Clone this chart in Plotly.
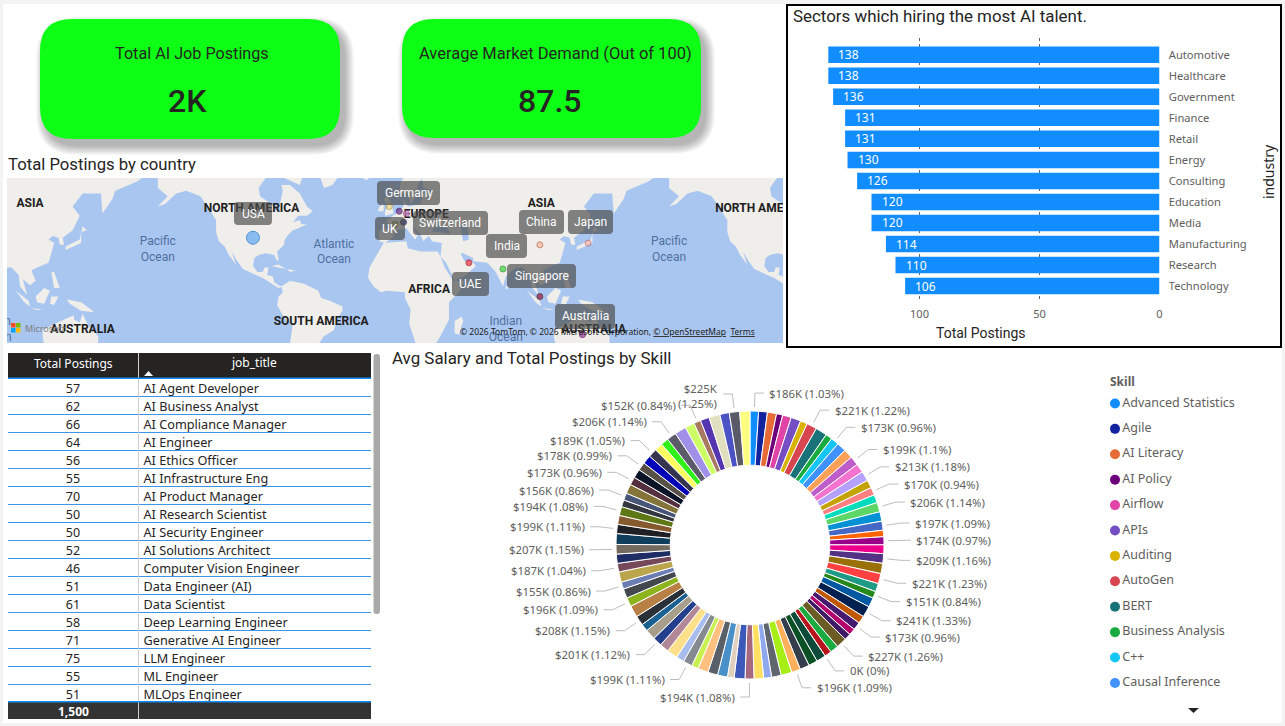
import math
import plotly.graph_objects as go

W, H = 1285, 726
BODY_FONT = "Noto Sans"
HEAD_FONT = "Roboto"
INK = "#252423"
GREY = "#605E5C"

# ---- KPI cards ----
card_titles = ["Total AI Job Postings", "Average Market Demand (Out of 100)"]
card_values = ["2K", "87.5"]

# ---- Postings by sector ----
industries = ["Automotive", "Healthcare", "Government", "Finance", "Retail", "Energy",
              "Consulting", "Education", "Media", "Manufacturing", "Research", "Technology"]
industry_postings = [138, 138, 136, 131, 131, 130, 126, 120, 120, 114, 110, 106]

# ---- Postings by job title ----
job_titles = ["AI Agent Developer", "AI Business Analyst", "AI Compliance Manager", "AI Engineer",
              "AI Ethics Officer", "AI Infrastructure Eng", "AI Product Manager", "AI Research Scientist",
              "AI Security Engineer", "AI Solutions Architect", "Computer Vision Engineer",
              "Data Engineer (AI)", "Data Scientist", "Deep Learning Engineer", "Generative AI Engineer",
              "LLM Engineer", "ML Engineer", "MLOps Engineer"]
job_postings = [57, 62, 66, 64, 56, 55, 70, 50, 50, 52, 46, 51, 61, 58, 71, 75, 55, 51]
table_total = "1,500"

# ---- Average salary by skill, in $K, clockwise from twelve o'clock ----
skill_legend = ["Advanced Statistics", "Agile", "AI Literacy", "AI Policy", "Airflow", "APIs",
                "Auditing", "AutoGen", "BERT", "Business Analysis", "C++", "Causal Inference"]
salary_k = [186, 190, 198, 135, 190, 215, 153, 221, 250, 146,
            173, 205, 200, 199, 195, 213, 175, 170, 175, 206,
            205, 197, 140, 174, 190, 209, 225, 221, 180, 151,
            205, 241, 165, 173, 143, 143, 227, 180, 155, 0,
            205, 195, 205, 196, 235, 208, 172, 208, 194, 235,
            145, 215, 215, 225, 150, 199, 172, 235, 200, 201,
            226, 162, 208, 255, 196, 205, 155, 225, 187, 200,
            207, 235, 199, 195, 194, 150, 156, 205, 173, 195,
            178, 190, 189, 175, 169, 206, 250, 205, 152, 195,
            240, 205, 225, 222]
slice_colors = ["#118DFF", "#12239E", "#E66C37", "#6B007B", "#E044A7", "#744EC2", "#D9B300", "#D64550", "#197278", "#1AAB40",
                "#15C6F4", "#4092FF", "#FFA058", "#BE5DC9", "#F472D0", "#B5A1FF", "#C4A200", "#FF8080", "#00DBBC", "#5BD667",
                "#0091D5", "#4668C5", "#FF6300", "#99008A", "#EC008C", "#533285", "#99700A", "#FF4141", "#1F9A85", "#25891C",
                "#0057A2", "#002050", "#C15700", "#461A6E", "#B3006C", "#3F1B65", "#6B5B25", "#1AAB40", "#B7141B", "#B7141B",
                "#0E4A3A", "#0C5025", "#343D4C", "#FFB05C", "#A6EE15", "#60666E", "#8FA8EE", "#FFE062", "#A6687E", "#3C58B8",
                "#DFD0C0", "#4A90C8", "#5A6068", "#FFC080", "#C8F050", "#848A90", "#A8BCEE", "#FFE08A", "#B28898", "#24408C",
                "#A89E8C", "#1A6090", "#2A3038", "#B98046", "#8DB41C", "#43484F", "#6A7EB4", "#BBA64D", "#75485A", "#1E2D64",
                "#736A60", "#0F3E5C", "#1E2026", "#865A2F", "#5F7816", "#32363E", "#465578", "#85743A", "#54303E", "#0C1428",
                "#565046", "#0000B8", "#353550", "#FFFF60", "#30F018", "#5B5B6A", "#A090E8", "#CCFF66", "#A87860", "#5535B0",
                "#E0E0C0", "#4A52C4", "#5A5A68", "#FFFF80"]
# Share of total printed next to the labelled slices (1-based slice number)
labelled_shares = {1: "1.03", 8: "1.22", 11: "0.96", 14: "1.1", 16: "1.18", 18: "0.94", 20: "1.14", 22: "1.09",
                   24: "0.97", 26: "1.16", 28: "1.23", 30: "0.84", 32: "1.33", 34: "0.96", 37: "1.26", 40: "0",
                   44: "1.09", 49: "1.08", 56: "1.11", 60: "1.12", 63: "1.15", 65: "1.09", 67: "0.86", 69: "1.04",
                   71: "1.15", 73: "1.11", 75: "1.08", 77: "0.86", 79: "0.96", 81: "0.99", 83: "1.05", 86: "1.14",
                   89: "0.84", 93: "1.25"}
two_line_slices = {93}

# ---- Map points: lon, lat ----
countries = ["USA", "UK", "Netherlands", "Germany", "Switzerland", "France", "India", "UAE", "China", "Japan",
             "Singapore", "Australia"]
country_lon = [-98, -2, 5, 10, 8, 2, 78, 54, 104, 138, 104, 134]
country_lat = [39, 54, 52, 51, 47, 46, 20, 24, 35, 36, 1, -25]
country_size = [13, 6, 6, 6, 6, 6, 6, 6, 6, 6, 6, 6]
country_fill = ["#5EA8F5", "#E8D68A", "#6A2A8A", "#D68ACB", "#2A2A80", "#B8B060", "#3CD83C", "#F03040", "#F0B8A0", "#F0B0B0",
                "#9A1838", "#A030A0"]
country_edge = ["#1B6DC6", "#B89A30", "#3C1050", "#9A4A90", "#101040", "#807830", "#1A8A1A", "#A01020", "#C06040", "#C06868",
                "#501020", "#601060"]

place_names = ["ASIA", "NORTH AMERICA", "EUROPE", "AFRICA", "SOUTH AMERICA", "AUSTRALIA"]
place_lon = [105, -99, 24, 26, -50, 142]
place_lat = [55, 53, 50.5, 5.6, -16.7, -22]
ocean_names = ["Pacific<br>Ocean", "Atlantic<br>Ocean", "Indian<br>Ocean"]
ocean_lon = [-165, -41, 80]
ocean_lat = [32, 30.5, -22]

# Coastlines as (lon, lat)
north_america = [(-168,66),(-162,70),(-156,71),(-141,70),(-128,70),(-115,68),(-108,68),(-95,68),(-94,72),(-88,68),(-82,69),(-86,66),
                 (-94,61),(-93,58),(-85,55),(-82,52),(-79,52),(-79,55),(-77,60),(-78,62),(-72,62),(-65,59),(-60,54),(-56,52),(-60,50),
                 (-66,50),(-70,47),(-65,48),(-64,46),(-60,46),(-66,44),(-70,43),(-74,40),(-76,37),(-76,35),(-81,31),(-80,26),(-81,25),
                 (-83,29),(-89,30),(-94,29),(-97,27),(-98,22),(-95,18),(-91,18),(-90,21),(-87,21),(-88,16),(-84,15),(-83,11),(-80,9),
                 (-77,8),(-80,7),(-85,10),(-91,14),(-96,16),(-105,20),(-109,25),(-113,31),(-110,23),(-115,29),(-118,34),(-122,37),
                 (-124,42),(-124,48),(-130,54),(-135,58),(-145,60),(-152,59),(-160,55),(-165,54),(-158,58),(-165,61),(-165,64)]
south_america = [(-78,8),(-72,12),(-62,10),(-52,5),(-50,0),(-44,-2),(-35,-6),(-35,-9),(-39,-15),(-41,-22),(-48,-26),(-54,-34),(-58,-38),
                 (-66,-45),(-70,-53),(-74,-50),(-73,-37),(-70,-18),(-76,-14),(-81,-5),(-80,1),(-77,4)]
africa = [(-6,36),(10,37),(11,33),(20,31),(32,31),(34,28),(37,21),(43,12),(51,12),(47,4),(40,-3),(40,-15),(35,-24),(32,-29),(26,-34),(18,-34),
          (12,-18),(13,-8),(9,0),(9,4),(-4,5),(-8,4),(-13,8),(-17,14),(-16,21),(-10,30)]
eurasia = [(-9,37),(-9,43),(-1,44),(-4,48),(3,51),(8,54),(8,57),(11,54),(20,55),(22,59),(30,60),(22,61),(21,64),(24,66),(18,62),(17,58),(13,55),
           (11,59),(5,59),(6,63),(15,68),(25,71),(40,67),(45,68),(60,69),(70,73),(90,76),(105,78),(130,72),(160,70),(180,68),(190,66),(180,63),
           (165,60),(163,57),(156,51),(155,59),(142,59),(135,54),(140,50),(135,43),(128,39),(129,35),(126,35),(125,39),(121,40),(118,38),(122,36),
           (120,30),(118,24),(110,21),(106,19),(109,12),(105,9),(100,13),(103,2),(98,8),(97,16),(92,21),(87,21),(80,15),(78,8),(73,18),(67,24),
           (57,25),(57,27),(50,30),(48,30),(51,25),(56,25),(59,22),(52,16),(44,12),(38,24),(34,28),(35,36),(28,37),(26,40),(23,38),(22,37),(19,42),
           (14,45),(18,40),(16,38),(10,44),(3,43),(0,39),(-5,36)]
greenland = [(-73,78),(-60,82),(-35,83),(-20,80),(-22,72),(-32,68),(-42,62),(-48,61),(-53,67),(-58,75)]
baffin = [(-80,73),(-62,66),(-65,62),(-75,64),(-78,70)]
britain = [(-5,50),(1,51),(0,54),(-3,58),(-6,57),(-3,54),(-5,52)]
ireland = [(-10,52),(-6,52),(-6,55),(-9,54)]
iceland = [(-24,65),(-14,65),(-18,63.5)]
japan = [(130,32),(136,34),(141,36),(141,41),(142,45),(145,43),(141,42),(140,38),(133,35),(130,34)]
madagascar = [(44,-16),(49,-13),(50,-16),(47,-25),(44,-24)]
sri_lanka = [(80,9),(82,7),(80,6)]
sumatra = [(95,5),(104,-2),(105,-6),(101,-3)]
borneo = [(109,1),(115,7),(119,5),(117,0),(115,-4),(110,-3)]
java = [(105,-7),(114,-8),(110,-8.5)]
sulawesi = [(120,1),(125,1),(122,-5),(119,-4)]
philippines = [(120,18),(122,18),(126,7),(122,7)]
new_guinea = [(131,-1),(141,-3),(148,-8),(150,-10),(141,-9),(138,-7),(133,-4)]
australia = [(114,-22),(122,-18),(129,-15),(136,-12),(136,-15),(140,-17),(142,-11),(146,-19),(153,-26),(153,-32),(150,-37),(144,-38),(138,-35),
             (131,-31),(124,-33),(116,-35),(114,-27)]
cuba = [(-85,22),(-75,20),(-80,23)]
hispaniola = [(-74,20),(-68,19),(-72,18)]
land_masses = [north_america, south_america, africa, eurasia, greenland, baffin, britain, ireland, iceland, japan, madagascar,
               sri_lanka, sumatra, borneo, java, sulawesi, philippines, new_guinea, australia, cuba, hispaniola]
black_sea = [(28,42),(33,42),(41,41),(38,45),(31,46)]
caspian = [(48,46),(53,45),(54,38),(50,37),(49,41)]
inland_seas = [black_sea, caspian]

MAP_LON_RANGE = [-271.2, 275.2]


def fx(px):
    return px / W


def fy(py):
    return 1 - py / H


def mercator(lat):
    return math.log(math.tan(math.pi / 4 + math.radians(lat) / 2))


def rounded(x0, y0, x1, y1, r):
    """SVG path of a rounded rectangle given in page pixels, in paper coordinates."""
    p = lambda x, y: f"{fx(x):.5f},{fy(y):.5f}"
    return (f"M{p(x0 + r, y0)} L{p(x1 - r, y0)} Q{p(x1, y0)} {p(x1, y0 + r)} L{p(x1, y1 - r)} Q{p(x1, y1)} {p(x1 - r, y1)} "
            f"L{p(x0 + r, y1)} Q{p(x0, y1)} {p(x0, y1 - r)} L{p(x0, y0 + r)} Q{p(x0, y0)} {p(x0 + r, y0)} Z")


def repeated_labels(names, lons, lats):
    """World-wrapped copies of map labels that can reach the visible window."""
    out_x, out_y, out_t = [], [], []
    for shift in (-360, 0, 360):
        for name, lon, lat in zip(names, lons, lats):
            lon = lon + shift
            if MAP_LON_RANGE[0] - 20 <= lon <= MAP_LON_RANGE[1] + 20:
                out_x.append(lon)
                out_y.append(mercator(lat))
                out_t.append(name)
    return out_x, out_y, out_t


shapes = []
annotations = []


def rect(x0, y0, x1, y1, fill, layer="below"):
    shapes.append(dict(type="rect", xref="paper", yref="paper", x0=fx(x0), x1=fx(x1), y0=fy(y1), y1=fy(y0),
                       fillcolor=fill, line_width=0, layer=layer))


def round_rect(x0, y0, x1, y1, r, fill, layer="below", opacity=1):
    shapes.append(dict(type="path", xref="paper", yref="paper", path=rounded(x0, y0, x1, y1, r),
                       fillcolor=fill, line_width=0, layer=layer, opacity=opacity))


def label(px, py, text, size=12, color=INK, family=BODY_FONT, anchor="center", weight=None, **kw):
    shift = -1.5 if anchor == "left" else 0
    annotations.append(dict(xref="paper", yref="paper", x=fx(px + shift), y=fy(py), text=text, showarrow=False,
                            xanchor=anchor, yanchor="middle",
                            font=dict(size=size, color=color, family=family, weight=weight or "normal"), **kw))


fig = go.Figure()

# Page frame
rect(0, 0, W, 4, "#F3F3F3")
rect(0, 0, 3, H, "#F3F3F3")
rect(1282, 0, W, H, "#F3F3F3")
rect(0, 723, W, H, "#F3F3F3")

# Map water
map_x = [7, 783]
map_y = [178, 343]
rect(map_x[0], map_y[0], map_x[1], map_y[1], "#A9C6F0")

# KPI cards with soft drop shadows
for (x0, y0, x1, y1), title, value, tx, tsize, vx in zip([(40, 19, 340, 139), (402, 19, 701, 138)], card_titles, card_values,
                                                         [192, 555], [16.2, 16.5], [187, 549]):
    for grow in range(9, -1, -1):
        round_rect(x0 + 5 - grow, y0 + 7 - grow, x1 + 5 + grow, y1 + 7 + grow, 32 + grow, "#000000", opacity=0.03)
    round_rect(x0, y0, x1, y1, 32, "#0CFF14")
    label(tx, 54, title, size=tsize, family=HEAD_FONT)
    label(vx, 101, value, size=32, family=HEAD_FONT, weight=500)

# Panel titles
label(7, 164, "Total Postings by country", size=16.7, family=HEAD_FONT, anchor="left")
label(792, 16, "Sectors which hiring the most AI talent.", size=16.9, family=HEAD_FONT, anchor="left")
label(391, 358, "Avg Salary and Total Postings by Skill", size=16.9, family=HEAD_FONT, anchor="left")

# ---- Map ----
land_lon, land_lat = [], []
for shift in (-360, 0, 360):
    for mass in land_masses:
        land_lon += [p[0] + shift for p in mass] + [mass[0][0] + shift, None]
        land_lat += [mercator(p[1]) for p in mass] + [mercator(mass[0][1]), None]
fig.add_trace(go.Scatter(x=land_lon, y=land_lat, mode="lines", fill="toself", fillcolor="#F0EEEA", line=dict(width=0),
                         xaxis="x2", yaxis="y2", hoverinfo="skip"))
sea_lon, sea_lat = [], []
for shift in (-360, 0, 360):
    for sea in inland_seas:
        sea_lon += [p[0] + shift for p in sea] + [sea[0][0] + shift, None]
        sea_lat += [mercator(p[1]) for p in sea] + [mercator(sea[0][1]), None]
fig.add_trace(go.Scatter(x=sea_lon, y=sea_lat, mode="lines", fill="toself", fillcolor="#A9C6F0", line=dict(width=0),
                         xaxis="x2", yaxis="y2", hoverinfo="skip"))
ox, oy, ot = repeated_labels(ocean_names, ocean_lon, ocean_lat)
fig.add_trace(go.Scatter(x=ox, y=oy, text=ot, mode="text", textfont=dict(size=12, color="#4F6F9F", family=HEAD_FONT),
                         cliponaxis=True, xaxis="x2", yaxis="y2", hoverinfo="skip"))
px_, py_, pt_ = repeated_labels([f"<b>{n}</b>" for n in place_names], place_lon, place_lat)
fig.add_trace(go.Scatter(x=px_, y=py_, text=pt_, mode="text", textfont=dict(size=12, color="#202020", family=HEAD_FONT),
                         cliponaxis=True, xaxis="x2", yaxis="y2", hoverinfo="skip"))
fig.add_trace(go.Scatter(x=country_lon, y=[mercator(v) for v in country_lat], mode="markers",
                         marker=dict(size=country_size, color=country_fill, line=dict(color=country_edge, width=1)),
                         xaxis="x2", yaxis="y2", text=countries, hoverinfo="text"))

# Data-label bubbles on the map
for text, x0, y0, x1, y1 in [("USA", 234, 202, 272, 225), ("Germany", 377, 181, 440, 205), ("UK", 375, 217, 405, 240),
                             ("Switzerland", 413, 211, 488, 235), ("India", 486, 234, 527, 258), ("China", 519, 210, 564, 234),
                             ("Japan", 568, 210, 613, 234), ("Singapore", 507, 264, 576, 288), ("UAE", 452, 272, 489, 296),
                             ("Australia", 555, 304, 615, 329)]:
    round_rect(x0, y0, x1, y1, 4, "rgba(75,75,75,0.68)", layer="above")
    label((x0 + x1) / 2, (y0 + y1) / 2, text, size=12, color="#FFFFFF", family=HEAD_FONT)

# Map attribution and logo
for (x0, y0), c in zip([(11, 323), (16, 323), (11, 328), (16, 328)], ["#F25022", "#7FBA00", "#00A4EF", "#FFB900"]):
    rect(x0, y0, x0 + 4.5, y0 + 4.5, c, layer="above")
label(24, 328, "Microsoft", size=9, color="#808080", anchor="left")
label(459, 331, "© 2026 TomTom, © 2026 Microsoft Corporation, <u>© OpenStreetMap</u>  <u>Terms</u>", size=8.5, color="#222222", anchor="left")

# ---- Sector bars ----
rect(786, 4, 1282, 348, "#000000")
rect(788, 6, 1280, 346, "#FFFFFF")
fig.add_trace(go.Bar(x=industry_postings, y=industries, orientation="h", marker=dict(color="#118DFF", line_width=0),
                     width=0.785, xaxis="x", yaxis="y", hoverinfo="x+y"))
for name, value in zip(industries, industry_postings):
    annotations.append(dict(xref="x", yref="y", x=value, y=name, text=str(value), showarrow=False, xanchor="left", xshift=8,
                            font=dict(size=12, color="#FFFFFF", family=BODY_FONT)))
label(981, 333, "Total Postings", size=14, family=HEAD_FONT)
label(1269, 172, "industry", size=14, family=BODY_FONT, textangle=-90)

# ---- Job-title table ----
rect(8, 353, 371, 378, "#252423")
rect(8, 702, 371, 719, "#333333", layer="above")
rect(138, 379, 139, 702, "#CFCFCF", layer="above")
rect(138, 353, 139, 378, "#D0D0D0")
rect(138, 702, 139, 719, "#D0D0D0", layer="above")
rect(8, 377.5, 371, 379, "#118DFF", layer="above")
rect(8, 701, 371, 702.5, "#118DFF", layer="above")
round_rect(373.5, 354, 380, 614, 3, "#A9A9A9")
shapes.append(dict(type="path", xref="paper", yref="paper", fillcolor="#FFFFFF", line_width=0,
                   path=f"M{fx(144)},{fy(376)} L{fx(153)},{fy(376)} L{fx(148.5)},{fy(371)} Z"))
label(73, 363, "Total Postings", size=12, color="#FFFFFF")
label(254, 362, "job_title", size=12, color="#FFFFFF")
label(73, 711, f"<b>{table_total}</b>", size=12, color="#FFFFFF")
rows = list(range(len(job_titles)))
fig.add_trace(go.Scatter(x=[73] * len(rows), y=[r + 0.63 for r in rows], text=[str(v) for v in job_postings], mode="text",
                         textfont=dict(size=12.5, color=INK, family=BODY_FONT), xaxis="x3", yaxis="y3", hoverinfo="skip"))
fig.add_trace(go.Scatter(x=[143.5] * len(rows), y=[r + 0.63 for r in rows], text=job_titles, mode="text", textposition="middle right",
                         textfont=dict(size=12.7, color=INK, family=BODY_FONT), xaxis="x3", yaxis="y3", hoverinfo="skip"))

# ---- Skill donut ----
cx, cy, outer = 750, 545, 134
fig.add_trace(go.Pie(values=salary_k, marker=dict(colors=slice_colors, line=dict(color="#FFFFFF", width=1)), hole=0.595, sort=False,
                     direction="clockwise", rotation=0, textinfo="none", showlegend=False, hoverinfo="value+percent",
                     domain=dict(x=[fx(cx - outer), fx(cx + outer)], y=[fy(cy + outer), fy(cy - outer)])))
total = sum(salary_k)
running = 0
leader_x, leader_y = [], []
for number, value in enumerate(salary_k, start=1):
    mid = (running + value / 2) / total * 2 * math.pi
    running += value
    if number not in labelled_shares:
        continue
    sx, sy = math.sin(mid), -math.cos(mid)
    ex, ey = cx + 152 * sx, cy + 152 * sy
    side = 1 if sx >= 0 else -1
    leader_x += [cx + 138 * sx, ex, ex + side * 9, None]
    leader_y += [cy + 138 * sy, ey, ey, None]
    money = f"${value}K" if value else "0K"
    sep = "<br>" if number in two_line_slices else " "
    annotations.append(dict(xref="x5", yref="y5", x=ex + side * 12.5, y=ey + (2 if number in two_line_slices else 0),
                            text=f"{money}{sep}({labelled_shares[number]}%)", showarrow=False, align="right" if side < 0 else "left",
                            xanchor="left" if side > 0 else "right", yanchor="middle",
                            font=dict(size=11.4, color=GREY, family=BODY_FONT)))
fig.add_trace(go.Scatter(x=leader_x, y=leader_y, mode="lines", line=dict(color="#BDBDBD", width=1), xaxis="x5", yaxis="y5", hoverinfo="skip"))

# Legend column
label(1109, 381, "<b>Skill</b>", size=12, color=GREY, anchor="left")
slots = list(range(len(skill_legend)))
fig.add_trace(go.Scatter(x=[0] * len(slots), y=slots, text=skill_legend, mode="markers+text", textposition="middle right",
                         marker=dict(size=10, color=slice_colors[:len(slots)]),
                         textfont=dict(size=12.5, color=GREY, family=BODY_FONT), cliponaxis=False,
                         xaxis="x4", yaxis="y4", hoverinfo="skip"))
shapes.append(dict(type="path", xref="paper", yref="paper", fillcolor="#252423", line_width=0,
                   path=f"M{fx(1188)},{fy(708)} L{fx(1199)},{fy(708)} L{fx(1193.5)},{fy(713)} Z"))

hidden = dict(visible=False, fixedrange=True, automargin=False)
fig.update_layout(
    template=None,
    width=W, height=H, margin=dict(l=0, r=0, t=0, b=0, autoexpand=False), autosize=False, showlegend=False,
    paper_bgcolor="#FFFFFF", plot_bgcolor="rgba(0,0,0,0)", shapes=shapes, annotations=annotations,
    font=dict(family=BODY_FONT),
    # bar chart: value axis runs right to left, categories labelled on the right
    xaxis=dict(domain=[fx(800), fx(1159.5)], range=[149.8, 0], tickvals=[0, 50, 100], showgrid=True, griddash="dot",
               gridcolor="#666666", gridwidth=1, zeroline=False, ticks="outside", ticklen=4, tickcolor="rgba(0,0,0,0)",
               tickfont=dict(size=11, color=GREY, family=BODY_FONT), anchor="y", fixedrange=True, automargin=False),
    yaxis=dict(domain=[fy(300), fy(38)], range=[11.66, -0.794], type="category", categoryorder="array", categoryarray=industries,
               side="right", anchor="x", showgrid=False, ticks="outside", ticklen=6, tickcolor="rgba(0,0,0,0)", zeroline=False,
               tickfont=dict(size=11.2, color=GREY, family=BODY_FONT), fixedrange=True, automargin=False),
    # map: longitude against Mercator latitude
    xaxis2=dict(domain=[fx(map_x[0]), fx(map_x[1])], range=MAP_LON_RANGE, anchor="y2", **hidden),
    yaxis2=dict(domain=[fy(map_y[1]), fy(map_y[0])], range=[-0.553, 1.474], anchor="x2", **hidden),
    # table rows
    xaxis3=dict(domain=[fx(8), fx(371)], range=[8, 371], anchor="y3", showgrid=False, zeroline=False, showticklabels=False,
                ticks="", fixedrange=True, automargin=False),
    yaxis3=dict(domain=[fy(702.5), fy(378.5)], range=[18, 0], anchor="x3", tickvals=list(range(1, 18)), showgrid=True,
                gridcolor="#3E94E8", gridwidth=1, zeroline=False, showticklabels=False, ticks="", fixedrange=True, automargin=False),
    # legend column
    xaxis4=dict(domain=[fx(1109), fx(1280)], range=[-6, 165], anchor="y4", **hidden),
    yaxis4=dict(domain=[fy(716), fy(391)], range=[12.3, -0.49], anchor="x4", **hidden),
    # page-pixel overlay used for donut callouts
    xaxis5=dict(domain=[0, 1], range=[0, W], anchor="y5", **hidden),
    yaxis5=dict(domain=[0, 1], range=[H, 0], anchor="x5", **hidden),
)
fig.write_html("out.html")
